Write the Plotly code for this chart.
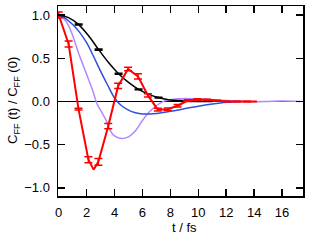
import plotly.graph_objects as go

# Black (reference) curve
black_t = [0, 0.7, 1.43, 2.14, 2.86, 3.57, 4.29, 5.0, 5.72, 6.43, 7.15, 7.86, 8.58, 9.3, 10.0, 11.0]
black_v = [1.0, 0.97, 0.89, 0.76, 0.60, 0.45, 0.32, 0.22, 0.14, 0.085, 0.045, 0.02, 0.008, 0.003, 0.0, 0.0]
black_bar_t = [0, 1.43, 2.86, 4.29, 5.72, 7.15, 8.58]
black_bar_v = [1.0, 0.89, 0.60, 0.32, 0.14, 0.045, 0.008]
black_bar_e = [0.004, 0.006, 0.006, 0.006, 0.005, 0.004, 0.003]

# Blue curve
blue_t = [0, 0.5, 1.0, 1.5, 2.0, 2.5, 3.0, 3.5, 4.0, 4.5, 5.0, 5.5, 6.0, 6.5, 7.0, 8.0, 9.0, 10.0, 11.0, 12.0, 13.0]
blue_v = [1.0, 0.96, 0.89, 0.80, 0.68, 0.52, 0.35, 0.19, 0.04, -0.05, -0.10, -0.13, -0.145, -0.145, -0.14, -0.115, -0.085, -0.055, -0.03, -0.01, 0.0]

# Purple curve
purple_t = [0, 0.35, 0.7, 1.05, 1.4, 1.75, 2.1, 2.45, 2.75, 3.1, 3.4, 3.7, 4.0, 4.5, 5.0, 5.5, 6.0, 6.5, 7.0, 7.5, 8.0, 8.5, 9.1, 10.0, 11.0, 12.0, 13.0, 14.0, 15.0, 16.0, 17.3]
purple_v = [1.0, 0.96, 0.88, 0.74, 0.57, 0.42, 0.27, 0.12, -0.03, -0.13, -0.22, -0.34, -0.40, -0.43, -0.41, -0.34, -0.22, -0.12, -0.05, 0.0, 0.02, 0.03, 0.035, 0.03, 0.02, 0.01, 0.0, -0.005, 0.0, 0.005, 0.0]

# Red curve (line) and its error-bar points
red_t = [0, 0.71, 1.42, 2.13, 2.5, 2.84, 3.55, 4.26, 4.97, 5.68, 6.39, 7.1, 7.81, 8.52, 9.23, 9.94, 10.65, 11.36, 12.07, 12.78, 13.49, 14.2]
red_v = [1.0, 0.665, -0.09, -0.675, -0.79, -0.70, -0.285, 0.18, 0.375, 0.29, 0.07, -0.095, -0.09, -0.05, 0.01, 0.02, 0.02, 0.01, 0.0, 0.0, 0.0, 0.0]
red_bar_t = [0, 0.71, 1.42, 2.13, 2.84, 3.55, 4.26, 4.97, 5.68, 6.39, 7.1, 7.81, 8.52, 9.23, 9.94, 10.65, 11.36, 12.07, 12.78, 13.49]
red_bar_v = [1.0, 0.665, -0.09, -0.675, -0.70, -0.285, 0.18, 0.375, 0.29, 0.07, -0.095, -0.09, -0.05, 0.01, 0.02, 0.02, 0.01, 0.0, 0.0, 0.0]
red_bar_e = [0.035, 0.035, 0.01, 0.035, 0.04, 0.03, 0.03, 0.02, 0.03, 0.02, 0.015, 0.015, 0.015, 0.01, 0.01, 0.005, 0.005, 0.003, 0.003, 0.003]

x_ticks = [0, 2, 4, 6, 8, 10, 12, 14, 16]
y_ticks = [-1.0, -0.5, 0.0, 0.5, 1.0]

FONT = "Liberation Sans, Arial, sans-serif"
W, H = 314, 242
L, R, T, B = 58, 11, 6, 46

fig = go.Figure()
fig.add_trace(go.Scatter(x=purple_t, y=purple_v, mode="lines",
                         line=dict(color="#b388ff", width=1.5, shape="spline"), showlegend=False))
fig.add_trace(go.Scatter(x=blue_t, y=blue_v, mode="lines",
                         line=dict(color="#2f4fdc", width=1.5, shape="spline"), showlegend=False))
fig.add_trace(go.Scatter(x=black_t, y=black_v, mode="lines",
                         line=dict(color="black", width=1.5, shape="spline"), showlegend=False))
fig.add_trace(go.Scatter(x=black_bar_t, y=black_bar_v, mode="markers",
                         marker=dict(size=0.1, color="black"),
                         error_y=dict(type="data", array=black_bar_e, width=4, thickness=1.5, color="black"),
                         showlegend=False, cliponaxis=False))
fig.add_trace(go.Scatter(x=red_t, y=red_v, mode="lines",
                         line=dict(color="#ff0000", width=2), showlegend=False))
fig.add_trace(go.Scatter(x=red_bar_t, y=red_bar_v, mode="markers",
                         marker=dict(size=0.1, color="#ff0000"),
                         error_y=dict(type="data", array=red_bar_e, width=4, thickness=1.5, color="#ff0000"),
                         showlegend=False, cliponaxis=False))

pw, ph = W - L - R, H - T - B
fig.update_layout(
    width=W, height=H,
    margin=dict(l=L, r=R, t=T, b=B, autoexpand=False),
    paper_bgcolor="white", plot_bgcolor="white",
    font=dict(family=FONT, size=13, color="black"),
    hovermode=False,
    xaxis=dict(range=[-0.05, 17.5], tickvals=x_ticks, ticks="inside", ticklen=7, tickwidth=1.5,
               tickcolor="black", showline=True, linecolor="black", linewidth=1.5, mirror="ticks",
               showgrid=False, zeroline=False, automargin=False, ticklabelstandoff=4),
    yaxis=dict(range=[-1.095, 1.105], tickvals=y_ticks, tickformat=".1f", ticks="inside", ticklen=7,
               tickwidth=1.5, tickcolor="black", showline=True, linecolor="black", linewidth=1.5,
               mirror="ticks", showgrid=False, zeroline=True, zerolinecolor="black", zerolinewidth=1.5,
               automargin=False, ticklabelstandoff=4),
    annotations=[
        dict(text="t / fs", xref="paper", yref="paper",
             x=(184 - L) / pw, y=-(227 - (H - B)) / ph, xanchor="center", yanchor="middle",
             showarrow=False, font=dict(size=13)),
        dict(text="C<sub>FF</sub> (t) / C<sub>FF</sub> (0)", xref="paper", yref="paper",
             x=-(L - 13) / pw, y=(H - B - 101) / ph, xanchor="center", yanchor="middle",
             textangle=-90, showarrow=False, font=dict(size=13)),
    ],
)

fig.write_html("out.html", config={"displayModeBar": False, "staticPlot": True},
               post_script="document.body.style.margin='0';document.body.style.overflow='hidden';")
